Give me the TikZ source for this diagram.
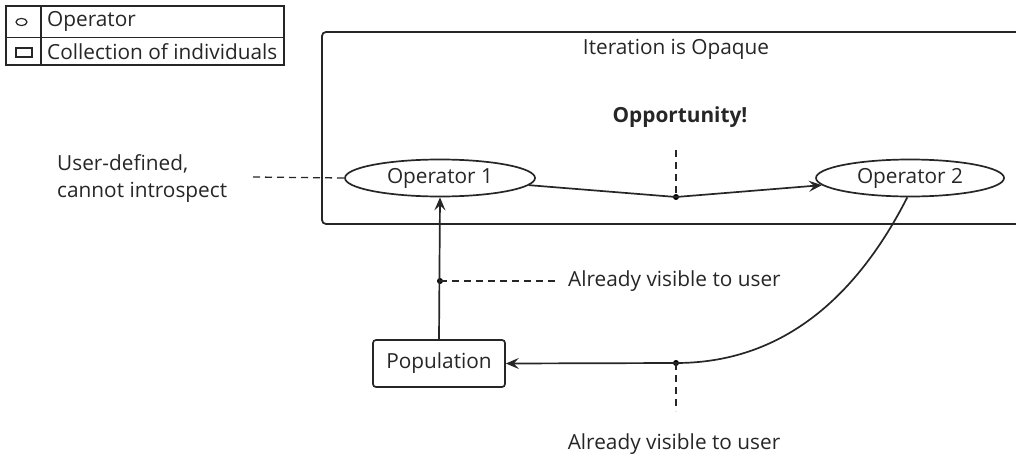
\documentclass[tikz,border=0pt]{standalone}
\usepackage{fontspec}
\setmainfont{Open Sans}
\usetikzlibrary{shapes.geometric,arrows.meta,calc}
\begin{document}
\begin{tikzpicture}[x=1pt,y=-1pt,
  every node/.style={font=\fontsize{20.8}{27}\selectfont, text=black!85},
  line/.style={draw=black!85, line width=1.7pt},
  hint/.style={draw=black!85, line width=1.3pt, dash pattern=on 7pt off 5pt},
  arr/.style={line, -{Stealth[length=13pt,width=11pt,inset=5pt]}},
  opnode/.style={ellipse, draw=black!85, line width=1.7pt, minimum width=190pt, minimum height=37pt, inner sep=0pt},
  collnode/.style={rectangle, rounded corners=3pt, draw=black!85, line width=1.7pt, minimum width=132pt, minimum height=47pt},
  junction/.style={circle, fill=black, inner sep=0pt, minimum size=6pt}]
\useasboundingbox (0,0) rectangle (1016,460);

% legend
\draw[black!85, line width=1.4pt] (6,6) rectangle (284,65);
\draw[black!85, line width=1.4pt] (6,37.5) -- (284,37.5) (41,6) -- (41,65);
\draw[black!85, line width=1.2pt] (21.5,22) ellipse [x radius=5.5, y radius=3.6];
\draw[black!85, line width=1.2pt] (16,48) rectangle (32,57);
\node[anchor=west, inner sep=0pt] (lgop) at (47,21.5) {Operator};
\node[anchor=west, inner sep=0pt] (lgcoll) at (47,52) {Collection of individuals};

% iteration frame
\draw[black!85, line width=1.8pt, rounded corners=4pt] (322,32) rectangle (1030,224);
\node (title) at (676,49) {Iteration is Opaque};
\node[font=\fontsize{20.8}{27}\selectfont\bfseries] (opp) at (680,117) {Opportunity!};

% operators and population
\node[opnode] (op1) at (440,178) {Operator 1};
\node[opnode, minimum width=188pt] (op2) at (910,178) {Operator 2};
\node[collnode] (pop) at (439,363.5) {Population};

% junction points
\node[junction] (d1) at (676,197) {};
\node[junction] (d2) at (440,281) {};
\node[junction] (d3) at (676,363) {};
\coordinate (oppend) at (676,150);
\coordinate (udend) at (253,177);
\coordinate (v1end) at (555,281);
\coordinate (v2end) at (676,411);

% annotations
\node[anchor=west, align=left, inner sep=0pt] (ud) at (57,179) {User-defined,\\cannot introspect};
\node[anchor=west, inner sep=0pt] (vis1) at (568,281) {Already visible to user};
\node[inner sep=0pt] (vis2) at (674,444) {Already visible to user};

% data flow
\draw[line] (op1) -- (d1.center);
\draw[arr] (d1.center) -- (op2);
\draw[arr] (pop.north) -- (op1.south);
\draw[line] (op2.262) .. controls (855,300) and (780,363) .. (d3.center);
\draw[arr] (d3.center) -- (pop.east);

% hint lines
\draw[hint] (oppend) -- (d1.center);
\draw[hint] (udend) -- (op1.west);
\draw[hint] (d2.center) -- (v1end);
\draw[hint] (d3.center) -- (v2end);
\end{tikzpicture}
\end{document}
